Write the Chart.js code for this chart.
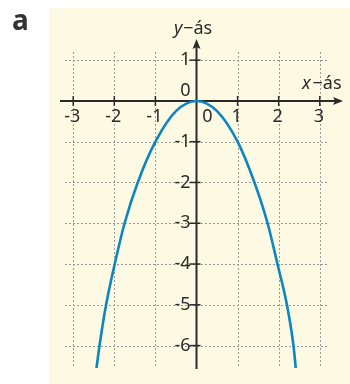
<!DOCTYPE html>
<html>
<head>
<meta charset="utf-8">
<script src="https://cdn.jsdelivr.net/npm/chart.js@4/dist/chart.umd.min.js"></script>
<style>
  html, body { margin: 0; padding: 0; background: #ffffff; }
  #wrap { width: 350px; height: 384px; position: relative; }
</style>
</head>
<body>
<div id="wrap"><canvas id="chart" width="350" height="384"></canvas></div>
<script>
// Curve points
const curveX = [-2.44, -2.36, -2.2, -1.99, -1.75, -1.43, -1.0, -0.5, 0, 0.5, 1.0, 1.41, 1.73, 1.97, 2.2, 2.36, 2.42];
const curveY = [-6.6, -6, -5, -4, -3, -2, -1, -0.25, 0, -0.25, -1, -2, -3, -4, -5, -6, -6.6];

// Axis ticks and labels
const xTicks = [-3, -2, -1, 1, 2, 3];
const yTicks = [1, -1, -2, -3, -4, -5, -6];
const gridX = [-3, -2, -1, 1, 2, 3];
const gridY = [1, -1, -2, -3, -4, -5, -6];

const points = curveX.map((x, i) => ({ x: x, y: curveY[i] }));

const FONT = '"Noto Sans", sans-serif';
const TEXT = '#2b2b2b';
const AXIS = '#2a2a2a';

// Draws the yellow panel, dotted grid, arrowed axes and labels
const axesPlugin = {
    id: 'axesPlugin',
    beforeDraw(chart) {
        const ctx = chart.ctx;
        const xs = chart.scales.x;
        const ys = chart.scales.y;
        const area = chart.chartArea;

        ctx.save();
        ctx.fillStyle = '#fef9e2';
        ctx.fillRect(49, 8, 301, 376);

        // dotted grid
        ctx.strokeStyle = '#9a9a9a';
        ctx.lineWidth = 1;
        ctx.setLineDash([2, 2]);
        gridX.forEach(v => {
            const px = Math.round(xs.getPixelForValue(v)) + 0.5;
            ctx.beginPath();
            ctx.moveTo(px, area.top);
            ctx.lineTo(px, area.bottom);
            ctx.stroke();
        });
        gridY.forEach(v => {
            const py = Math.round(ys.getPixelForValue(v)) + 0.5;
            ctx.beginPath();
            ctx.moveTo(area.left, py);
            ctx.lineTo(area.right, py);
            ctx.stroke();
        });
        ctx.setLineDash([]);

        const x0 = xs.getPixelForValue(0);
        const y0 = ys.getPixelForValue(0);

        // axes
        ctx.strokeStyle = AXIS;
        ctx.fillStyle = AXIS;
        ctx.lineWidth = 2;
        ctx.beginPath();
        ctx.moveTo(60, y0);
        ctx.lineTo(336, y0);
        ctx.moveTo(x0, 369);
        ctx.lineTo(x0, 46);
        ctx.stroke();

        // arrow heads
        ctx.beginPath();
        ctx.moveTo(343, y0);
        ctx.lineTo(333, y0 - 4);
        ctx.lineTo(335, y0);
        ctx.lineTo(333, y0 + 4);
        ctx.closePath();
        ctx.fill();
        ctx.beginPath();
        ctx.moveTo(x0, 39);
        ctx.lineTo(x0 - 4, 49);
        ctx.lineTo(x0, 47);
        ctx.lineTo(x0 + 4, 49);
        ctx.closePath();
        ctx.fill();

        // tick marks
        ctx.lineWidth = 1.5;
        xTicks.forEach(v => {
            const px = xs.getPixelForValue(v);
            ctx.beginPath();
            ctx.moveTo(px, y0 - 5);
            ctx.lineTo(px, y0 + 5);
            ctx.stroke();
        });
        yTicks.forEach(v => {
            const py = ys.getPixelForValue(v);
            ctx.beginPath();
            ctx.moveTo(x0 - 7, py);
            ctx.lineTo(x0 + 4, py);
            ctx.stroke();
        });

        // tick labels
        ctx.fillStyle = TEXT;
        ctx.font = '18px ' + FONT;
        ctx.textBaseline = 'middle';
        ctx.textAlign = 'center';
        xTicks.forEach(v => {
            ctx.fillText(String(v), xs.getPixelForValue(v) - 1, y0 + 16);
        });
        ctx.fillText('0', x0 + 11, y0 + 16);
        ctx.textAlign = 'right';
        yTicks.forEach(v => {
            ctx.fillText(String(v), x0 - 6, ys.getPixelForValue(v));
        });
        ctx.fillText('0', x0 - 6, y0 - 10);

        // axis names
        ctx.textAlign = 'left';
        ctx.font = 'italic 18px ' + FONT;
        ctx.fillText('y', 174, 29);
        ctx.fillText('x', 302, 84);
        ctx.font = '18px ' + FONT;
        ctx.fillText('\u2212ás', 174 + ctx.measureText('y').width, 29);
        ctx.fillText('\u2212ás', 302 + ctx.measureText('x').width + 1, 84);

        // panel letter
        ctx.font = 'bold 28px ' + FONT;
        ctx.fillStyle = '#333333';
        ctx.fillText('a', 12, 22);
        ctx.restore();
    }
};

new Chart(document.getElementById('chart'), {
    type: 'scatter',
    data: {
        datasets: [{
            data: points,
            showLine: true,
            borderColor: '#0b86c2',
            borderWidth: 2.6,
            pointRadius: 0,
            cubicInterpolationMode: 'monotone',
            fill: false
        }]
    },
    options: {
        responsive: false,
        animation: false,
        events: [],
        layout: { padding: { left: 65, right: 22, top: 52, bottom: 16 } },
        plugins: {
            legend: { display: false },
            tooltip: { enabled: false }
        },
        scales: {
            x: { type: 'linear', display: false, min: -3.2, max: 3.2 },
            y: { type: 'linear', display: false, min: -6.55, max: 1.2 }
        }
    },
    plugins: [axesPlugin]
});
</script>
</body>
</html>
